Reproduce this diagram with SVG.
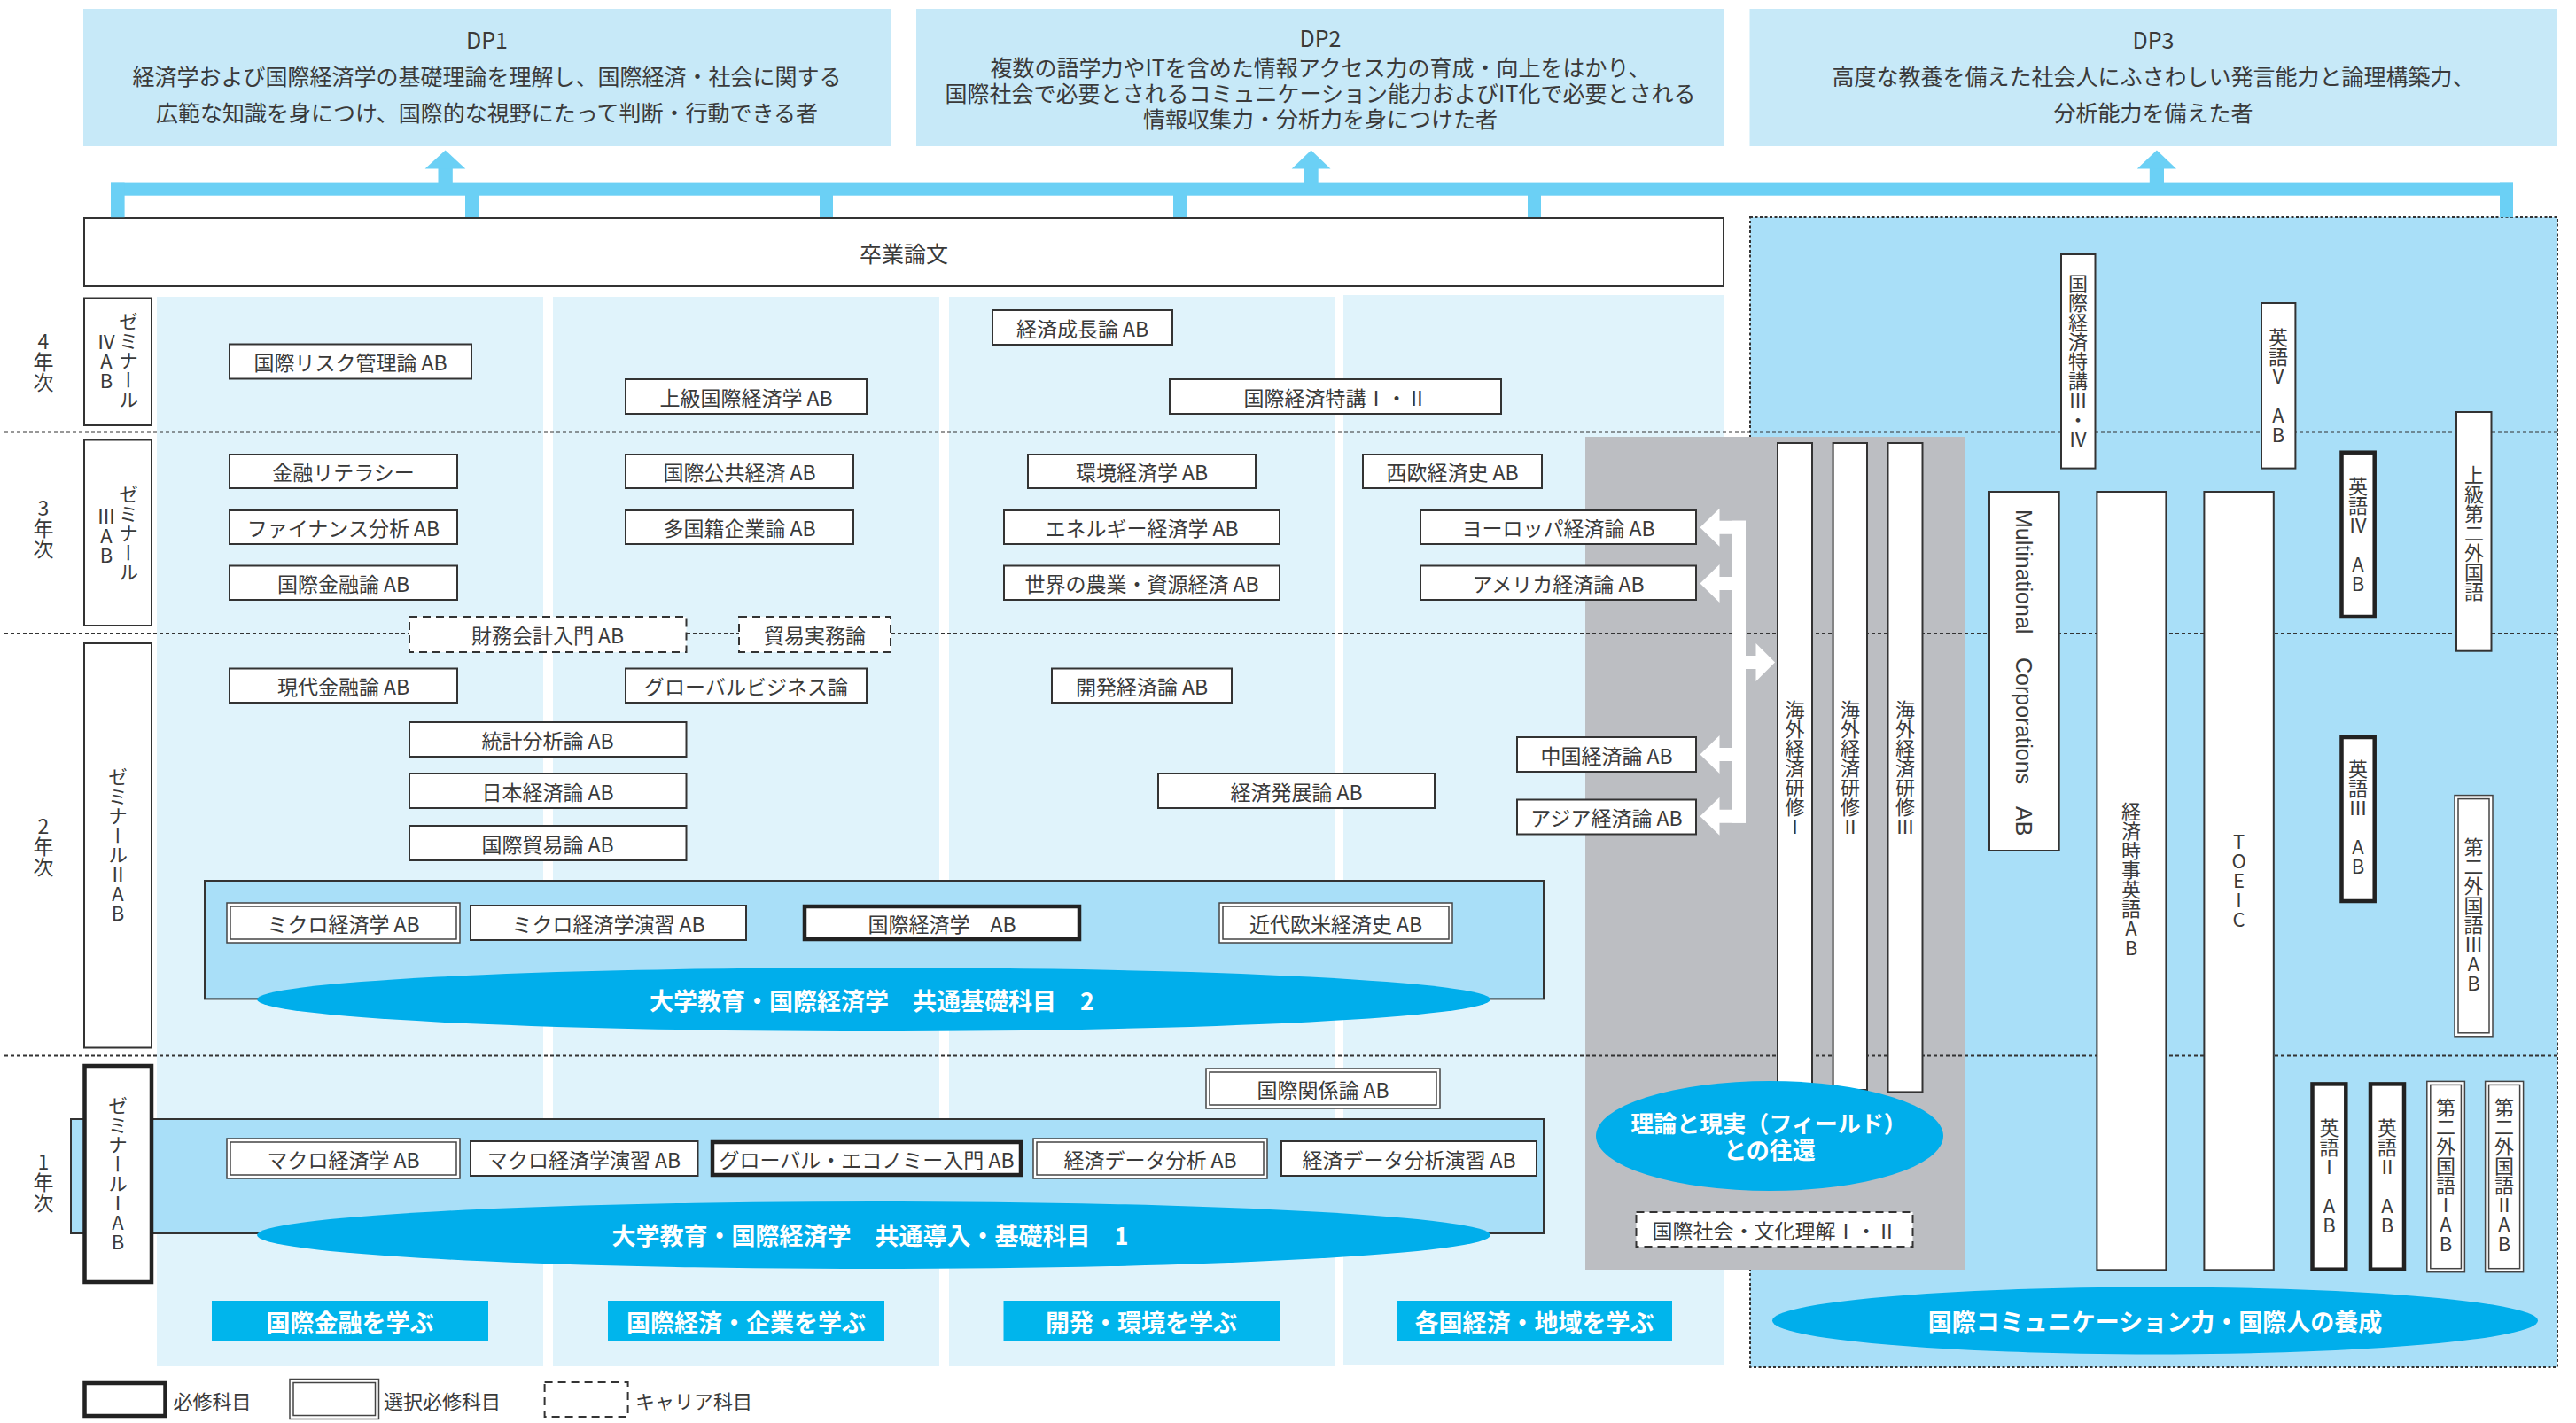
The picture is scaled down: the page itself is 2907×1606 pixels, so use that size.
<svg xmlns="http://www.w3.org/2000/svg" width="2907" height="1606" viewBox="0 0 2907 1606">
<defs><style>
text{font-family:"Noto Sans CJK JP","Noto Sans",sans-serif;fill:#3a3a3a;}
.c{font-size:23px;text-anchor:middle;dominant-baseline:central;}
.dp{font-size:25px;text-anchor:middle;dominant-baseline:central;}
.v{font-size:22px;writing-mode:vertical-rl;text-orientation:upright;text-anchor:middle;}
.yr{font-size:23px;writing-mode:vertical-rl;text-orientation:upright;text-anchor:middle;}
.w{fill:#fff;font-weight:bold;font-size:27px;text-anchor:middle;dominant-baseline:central;}
.lg{font-size:22px;dominant-baseline:central;}
.b{fill:#fff;stroke:#333;stroke-width:2;}
.k{fill:#fff;stroke:#222;stroke-width:4.5;}
.d1{fill:#fff;stroke:#444;stroke-width:1.5;}
.d2{fill:none;stroke:#444;stroke-width:1.5;}
.ds{fill:#fff;stroke:#333;stroke-width:2;stroke-dasharray:9 6;}
.dot{stroke:#333;stroke-width:2;stroke-dasharray:4 3;fill:none;}
.col{fill:#e0f3fb;}
.band{fill:#a9dff8;stroke:#333;stroke-width:2;}
.ell{fill:#00aeeb;}
.lab{fill:#00b5ec;}
.bar{fill:#6bd0f5;}
.dpb{fill:#c7e9f8;}
</style></defs>
<rect x="0" y="0" width="2907" height="1606" fill="#fff"/>

<g id="dp1"><rect class="dpb" x="94" y="10" width="911" height="155"/>
<text class="dp" x="549.5" y="44">DP1</text>
<text class="dp" x="549.5" y="84.5">経済学および国際経済学の基礎理論を理解し、国際経済・社会に関する</text>
<text class="dp" x="549.5" y="125.5">広範な知識を身につけ、国際的な視野にたって判断・行動できる者</text></g>
<g id="dp2"><rect class="dpb" x="1034" y="10" width="912" height="155"/>
<text class="dp" x="1490" y="42">DP2</text>
<text class="dp" x="1490" y="74.5">複数の語学力やITを含めた情報アクセス力の育成・向上をはかり、</text>
<text class="dp" x="1490" y="103.5">国際社会で必要とされるコミュニケーション能力およびIT化で必要とされる</text>
<text class="dp" x="1490" y="132.5">情報収集力・分析力を身につけた者</text></g>
<g id="dp3"><rect class="dpb" x="1974.5" y="10" width="911.5" height="155"/>
<text class="dp" x="2430" y="44">DP3</text>
<text class="dp" x="2430" y="84.5">高度な教養を備えた社会人にふさわしい発言能力と論理構築力、</text>
<text class="dp" x="2430" y="125.5">分析能力を備えた者</text></g>

<g id="thesis"><rect class="b" x="95" y="246" width="1850" height="77" stroke-width="2.5"/>
<text class="dp" x="1020" y="285">卒業論文</text></g>

<g id="backgrounds">
<rect class="col" x="177" y="335" width="436" height="1207"/>
<rect class="col" x="624" y="335" width="436" height="1207"/>
<rect class="col" x="1071" y="335" width="435" height="1207"/>
<rect class="col" x="1516" y="333" width="429" height="1208"/>
<rect x="1975" y="245" width="911" height="1298" fill="#a9dff8" stroke="#333" stroke-width="2" stroke-dasharray="3 2.5"/>
<rect x="1789" y="493" width="428" height="940" fill="#bcbec2"/>
</g>

<g id="year-lines">
<line class="dot" x1="5" y1="487.5" x2="2886" y2="487.5"/>
<line class="dot" x1="5" y1="715" x2="2886" y2="715"/>
<line class="dot" x1="5" y1="1191.5" x2="2886" y2="1191.5"/>
</g>

<g id="connectors">
<rect class="bar" x="125" y="205.6" width="2711" height="15.1"/>
<rect class="bar" x="125" y="205.6" width="15.6" height="39.6"/>
<rect class="bar" x="525" y="220" width="15" height="25"/>
<rect class="bar" x="925" y="220" width="15" height="25"/>
<rect class="bar" x="1324" y="220" width="16" height="25"/>
<rect class="bar" x="1724" y="220" width="15" height="25"/>
<rect class="bar" x="2821" y="205.6" width="15" height="39.6"/>
<rect class="bar" x="494.5" y="189" width="16.3" height="17"/>
<polygon class="bar" points="479.6,190.4 502.6,169.4 525.3,190.4"/>
<rect class="bar" x="1471.5" y="189" width="16.2" height="17"/>
<polygon class="bar" points="1457.7,190.4 1479.6,169.4 1501.5,190.4"/>
<rect class="bar" x="2425.8" y="189" width="16.2" height="17"/>
<polygon class="bar" points="2411.8,190.4 2433.9,169.4 2456,190.4"/>
<g fill="#fff">
<rect x="1955" y="587.7" width="15" height="341"/>
<polygon points="1970,587.7 1940.5,587.7 1940.5,573.7 1918.5,595.2 1940.5,616.7 1940.5,602.7 1970,602.7"/>
<polygon points="1970,651 1940.5,651 1940.5,637 1918.5,658.5 1940.5,680 1940.5,666 1970,666"/>
<polygon points="1970,843.9 1940.5,843.9 1940.5,829.9 1918.5,851.4 1940.5,872.9 1940.5,858.9 1970,858.9"/>
<polygon points="1970,913.7 1940.5,913.7 1940.5,899.7 1918.5,921.2 1940.5,942.7 1940.5,928.7 1970,928.7"/>
<polygon points="1955,740 1981.5,740 1981.5,726 2003,747.5 1981.5,769 1981.5,755 1955,755"/>
</g>
</g>

<g id="years">
<text class="yr" x="49" y="408">4年次</text>
<text class="yr" x="49" y="596">3年次</text>
<text class="yr" x="49" y="955">2年次</text>
<text class="yr" x="49" y="1334">1年次</text>
</g>

<g id="band2"><rect class="band" x="231" y="994" width="1511" height="133.4"/></g>
<g id="band1"><rect class="band" x="80" y="1263" width="1662" height="129"/></g>

<g id="seminar4"><rect class="b" x="95" y="336.5" width="76" height="143.5"/>
<text class="v" x="145" y="407">ゼミナール</text><text class="v" x="120" y="408">ⅣAB</text></g>
<g id="seminar3"><rect class="b" x="95" y="496.5" width="76" height="209.5"/>
<text class="v" x="145" y="602">ゼミナール</text><text class="v" x="120" y="605">ⅢAB</text></g>
<g id="seminar2"><rect class="b" x="95" y="726" width="76" height="456.5"/>
<text class="v" x="133" y="953.5">ゼミナールⅡAB</text></g>
<g id="seminar1"><rect class="k" x="95.5" y="1203" width="75.5" height="244"/>
<text class="v" x="133" y="1324.5">ゼミナールⅠAB</text></g>

<g id="c1"><rect class="b" x="259" y="388.5" width="273" height="39"/><text class="c" x="395.5" y="408">国際リスク管理論 AB</text></g>
<g id="c2"><rect class="b" x="706" y="428" width="272" height="39"/><text class="c" x="842" y="447.5">上級国際経済学 AB</text></g>
<g id="c3"><rect class="b" x="1120" y="350" width="203" height="39"/><text class="c" x="1221.5" y="369.5">経済成長論 AB</text></g>
<g id="c4"><rect class="b" x="1320" y="428" width="374" height="39"/><text class="c" x="1507" y="447.5">国際経済特講Ⅰ・Ⅱ</text></g>
<g id="c5"><rect class="b" x="259" y="513" width="257" height="38"/><text class="c" x="387.5" y="532">金融リテラシー</text></g>
<g id="c6"><rect class="b" x="259" y="576" width="257" height="38"/><text class="c" x="387.5" y="595">ファイナンス分析 AB</text></g>
<g id="c7"><rect class="b" x="259" y="638.5" width="257" height="38.5"/><text class="c" x="387.5" y="657.7">国際金融論 AB</text></g>
<g id="c8"><rect class="b" x="706" y="513" width="257" height="38"/><text class="c" x="834.5" y="532">国際公共経済 AB</text></g>
<g id="c9"><rect class="b" x="706" y="576" width="257" height="38"/><text class="c" x="834.5" y="595">多国籍企業論 AB</text></g>
<g id="c10"><rect class="b" x="1160" y="513" width="257" height="38"/><text class="c" x="1288.5" y="532">環境経済学 AB</text></g>
<g id="c11"><rect class="b" x="1133" y="576" width="311" height="38"/><text class="c" x="1288.5" y="595">エネルギー経済学 AB</text></g>
<g id="c12"><rect class="b" x="1133" y="638.5" width="311" height="38.5"/><text class="c" x="1288.5" y="657.7">世界の農業・資源経済 AB</text></g>
<g id="c13"><rect class="b" x="1538" y="513" width="202" height="38"/><text class="c" x="1639" y="532">西欧経済史 AB</text></g>
<g id="c14"><rect class="b" x="1603" y="576" width="311" height="38"/><text class="c" x="1758.5" y="595">ヨーロッパ経済論 AB</text></g>
<g id="c15"><rect class="b" x="1603" y="638.5" width="311" height="38.5"/><text class="c" x="1758.5" y="657.7">アメリカ経済論 AB</text></g>
<g id="c16"><rect class="ds" x="462" y="696" width="312.5" height="40"/><text class="c" x="618" y="716">財務会計入門 AB</text></g>
<g id="c17"><rect class="ds" x="834" y="696" width="171" height="40"/><text class="c" x="919.5" y="716">貿易実務論</text></g>
<g id="c18"><rect class="b" x="259" y="754.5" width="257" height="38.5"/><text class="c" x="387.5" y="773.7">現代金融論 AB</text></g>
<g id="c19"><rect class="b" x="706" y="754.5" width="272" height="38.5"/><text class="c" x="842" y="773.7">グローバルビジネス論</text></g>
<g id="c20"><rect class="b" x="1187" y="754.5" width="203" height="38.5"/><text class="c" x="1288.5" y="773.7">開発経済論 AB</text></g>
<g id="c21"><rect class="b" x="462" y="815" width="312.5" height="39"/><text class="c" x="618" y="834.5">統計分析論 AB</text></g>
<g id="c22"><rect class="b" x="462" y="873" width="312.5" height="39"/><text class="c" x="618" y="892.5">日本経済論 AB</text></g>
<g id="c23"><rect class="b" x="462" y="932" width="312.5" height="39"/><text class="c" x="618" y="951.5">国際貿易論 AB</text></g>
<g id="c24"><rect class="b" x="1307" y="873" width="312" height="39"/><text class="c" x="1463" y="892.5">経済発展論 AB</text></g>
<g id="c25"><rect class="b" x="1712" y="832" width="202" height="39"/><text class="c" x="1813" y="851.5">中国経済論 AB</text></g>
<g id="c26"><rect class="b" x="1712" y="902.5" width="202" height="39"/><text class="c" x="1813" y="922">アジア経済論 AB</text></g>

<g id="c27"><rect class="d1" x="256" y="1019" width="263" height="45"/><rect class="d2" x="260" y="1023" width="255" height="37"/><text class="c" x="387.5" y="1041.5">ミクロ経済学 AB</text></g>
<g id="c28"><rect class="b" x="531" y="1022" width="311" height="39"/><text class="c" x="686.5" y="1041.5">ミクロ経済学演習 AB</text></g>
<g id="c29"><rect class="k" x="908" y="1023" width="310" height="37"/><text class="c" x="1063" y="1041.5">国際経済学　AB</text></g>
<g id="c30"><rect class="d1" x="1376" y="1019" width="263" height="45"/><rect class="d2" x="1380" y="1023" width="255" height="37"/><text class="c" x="1507.5" y="1041.5">近代欧米経済史 AB</text></g>

<g id="c31"><rect class="d1" x="1361" y="1206" width="264" height="45"/><rect class="d2" x="1365" y="1210" width="256" height="37"/><text class="c" x="1493" y="1228.5">国際関係論 AB</text></g>
<g id="c32"><rect class="d1" x="256" y="1285" width="263" height="45"/><rect class="d2" x="260" y="1289" width="255" height="37"/><text class="c" x="387.5" y="1307.5">マクロ経済学 AB</text></g>
<g id="c33"><rect class="b" x="531" y="1288" width="256.5" height="39"/><text class="c" x="659" y="1307.5">マクロ経済学演習 AB</text></g>
<g id="c34"><rect class="k" x="804" y="1289" width="348" height="37"/><text class="c" x="978" y="1307.5">グローバル・エコノミー入門 AB</text></g>
<g id="c35"><rect class="d1" x="1166" y="1285" width="264" height="45"/><rect class="d2" x="1170" y="1289" width="256" height="37"/><text class="c" x="1298" y="1307.5">経済データ分析 AB</text></g>
<g id="c36"><rect class="b" x="1446" y="1288" width="288" height="39"/><text class="c" x="1590" y="1307.5">経済データ分析演習 AB</text></g>

<g id="ell2"><ellipse class="ell" cx="986" cy="1128" rx="696" ry="36"/><text class="w" x="984" y="1128">大学教育・国際経済学　共通基礎科目　2</text></g>
<g id="ell1"><ellipse class="ell" cx="986" cy="1394" rx="696" ry="38"/><text class="w" x="982" y="1393">大学教育・国際経済学　共通導入・基礎科目　1</text></g>

<g id="labels">
<rect class="lab" x="239" y="1468" width="312" height="46"/><text class="w" x="395" y="1491">国際金融を学ぶ</text>
<rect class="lab" x="686" y="1468" width="312" height="46"/><text class="w" x="842" y="1491">国際経済・企業を学ぶ</text>
<rect class="lab" x="1132.5" y="1468" width="311.5" height="46"/><text class="w" x="1288" y="1491">開発・環境を学ぶ</text>
<rect class="lab" x="1576" y="1468" width="311" height="46"/><text class="w" x="1731.5" y="1491">各国経済・地域を学ぶ</text>
</g>

<g id="overseas">
<rect class="b" x="2006" y="500" width="39" height="730"/><text class="v" x="2025.5" y="867">海外経済研修Ⅰ</text>
<rect class="b" x="2068.6" y="500" width="38.4" height="730"/><text class="v" x="2088" y="867">海外経済研修Ⅱ</text>
<rect class="b" x="2130.5" y="500" width="39" height="732.4"/><text class="v" x="2150" y="867">海外経済研修Ⅲ</text>
</g>
<g id="field"><ellipse class="ell" cx="1997" cy="1282" rx="196" ry="62"/>
<text class="w" x="1996" y="1266" style="font-size:26px">理論と現実（フィールド）</text>
<text class="w" x="1997" y="1296" style="font-size:26px">との往還</text></g>
<g id="c37"><rect class="ds" x="1846.5" y="1368" width="312" height="39"/><text class="c" x="2002.5" y="1387.5">国際社会・文化理解Ⅰ・Ⅱ</text></g>

<g id="v4"><rect class="b" x="2326" y="287" width="38.5" height="241.6"/><text class="v" x="2345" y="408">国際経済特講Ⅲ・Ⅳ</text></g>
<g id="v5"><rect class="b" x="2552" y="342" width="38.4" height="186.6"/><text class="v" x="2571" y="436">英語Ⅴ　AB</text></g>
<g id="v6"><rect class="k" x="2642.5" y="510.7" width="37.2" height="185.3"/><text class="v" x="2661" y="604">英語Ⅳ　AB</text></g>
<g id="v7"><rect class="b" x="2772" y="465" width="39.5" height="269.7"/><text class="v" x="2792" y="601.5">上級第二外国語</text></g>
<g id="v8"><rect class="b" x="2245" y="555" width="78.7" height="405"/>
<text transform="translate(2284,758) rotate(90)" style="font-family:'Liberation Sans',Arial,sans-serif;font-size:25px;dominant-baseline:central"><tspan x="-183">Multinational</tspan><tspan x="-16">Corporations</tspan><tspan x="152">AB</tspan></text></g>
<g id="v9"><rect class="b" x="2366.4" y="555" width="78" height="878.3"/><text class="v" x="2405" y="993">経済時事英語AB</text></g>
<g id="v10"><rect class="b" x="2487.4" y="555" width="78.4" height="878.3"/><text class="v" x="2526.6" y="994">TOEIC</text></g>
<g id="v11"><rect class="k" x="2642.5" y="832" width="37.2" height="185"/><text class="v" x="2661" y="923">英語Ⅲ　AB</text></g>
<g id="v12"><rect class="d1" x="2770" y="897.6" width="43" height="272.2"/><rect class="d2" x="2774" y="901.6" width="35" height="264.2"/><text class="v" x="2791.5" y="1033">第二外国語ⅢAB</text></g>
<g id="v13"><rect class="k" x="2609.5" y="1223.4" width="37.8" height="209.3"/><text class="v" x="2628.4" y="1328">英語Ⅰ　AB</text></g>
<g id="v14"><rect class="k" x="2675" y="1223.4" width="38" height="209.3"/><text class="v" x="2694" y="1328">英語Ⅱ　AB</text></g>
<g id="v15"><rect class="d1" x="2738.8" y="1220.4" width="42.6" height="215.3"/><rect class="d2" x="2742.8" y="1224.4" width="34.6" height="207.3"/><text class="v" x="2760" y="1327">第二外国語ⅠAB</text></g>
<g id="v16"><rect class="d1" x="2804.6" y="1220.4" width="43" height="215.3"/><rect class="d2" x="2808.6" y="1224.4" width="35" height="207.3"/><text class="v" x="2826" y="1327">第二外国語ⅡAB</text></g>

<g id="ell3"><ellipse class="ell" cx="2432" cy="1490.5" rx="432" ry="38"/><text class="w" x="2432" y="1490.5">国際コミュニケーション力・国際人の養成</text></g>

<g id="legend">
<rect class="k" x="95.5" y="1561" width="91" height="37"/><text class="lg" x="195.5" y="1579.5">必修科目</text>
<rect class="d1" x="327" y="1556.5" width="100.5" height="45"/><rect class="d2" x="331" y="1560.5" width="92.5" height="37"/><text class="lg" x="433" y="1579.5">選択必修科目</text>
<rect class="ds" x="614.6" y="1560" width="94" height="39"/><text class="lg" x="717" y="1579.5">キャリア科目</text>
</g>
</svg>
